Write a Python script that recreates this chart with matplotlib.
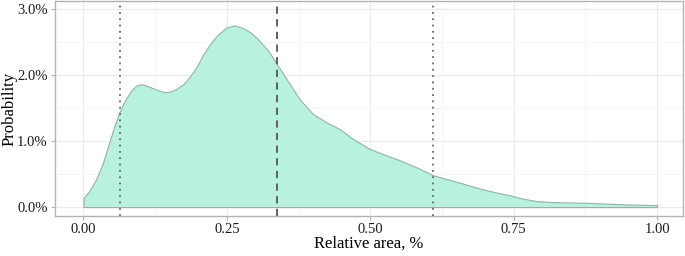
import matplotlib.pyplot as plt
from matplotlib.ticker import FuncFormatter, MultipleLocator

plt.rcParams['font.family'] = ['Liberation Serif', 'DejaVu Serif']

# density curve (x: relative area, y: probability in %)
area = [0.0, 0.010, 0.022, 0.034, 0.045, 0.054, 0.063, 0.072, 0.083, 0.092,
        0.101, 0.110, 0.118, 0.130, 0.141, 0.152, 0.162, 0.174, 0.185, 0.197,
        0.208, 0.220, 0.232, 0.249, 0.264, 0.278, 0.290, 0.301, 0.322, 0.336,
        0.354, 0.377, 0.400, 0.424, 0.447, 0.470, 0.499, 0.523, 0.551, 0.581,
        0.610, 0.639, 0.668, 0.691, 0.720, 0.743, 0.765, 0.790, 0.820, 0.877,
        0.947, 1.0]
prob = [0.14, 0.24, 0.42, 0.67, 0.98, 1.23, 1.44, 1.61, 1.76, 1.84,
        1.86, 1.84, 1.81, 1.77, 1.74, 1.75, 1.79, 1.86, 1.97, 2.12,
        2.30, 2.46, 2.59, 2.72, 2.75, 2.71, 2.65, 2.57, 2.37, 2.18,
        1.94, 1.63, 1.41, 1.28, 1.18, 1.03, 0.88, 0.80, 0.71, 0.60,
        0.48, 0.41, 0.34, 0.28, 0.22, 0.18, 0.13, 0.09, 0.075, 0.065,
        0.04, 0.03]
dotted_lines = [0.063, 0.609]
dashed_line = 0.337

fig = plt.figure(figsize=(6.85, 2.56), dpi=100)
ax = fig.add_axes([0.080, 0.156, 0.917, 0.840])

ax.fill_between(area, prob, 0, facecolor='#b8f2df', edgecolor='#9aaea6',
                linewidth=0.8, zorder=2)
for xv in dotted_lines:
    ax.axvline(xv, color='#666666', linestyle=(0, (1, 2.5)), linewidth=1.3, zorder=3)
ax.axvline(dashed_line, color='#555555', linestyle=(0, (4, 3)), linewidth=1.3, zorder=3)

ax.set_xlim(-0.05, 1.045)
ax.set_ylim(-0.136, 3.12)
ax.xaxis.set_major_locator(MultipleLocator(0.25))
ax.xaxis.set_minor_locator(MultipleLocator(0.125))
ax.yaxis.set_major_locator(MultipleLocator(1.0))
ax.yaxis.set_minor_locator(MultipleLocator(0.5))
ax.xaxis.set_major_formatter(FuncFormatter(lambda v, p: f"{v:.2f}"))
ax.yaxis.set_major_formatter(FuncFormatter(lambda v, p: f"{v:.1f}%"))

ax.grid(which='major', color='#ebebeb', linewidth=0.8, zorder=0)
ax.grid(which='minor', color='#f4f4f4', linewidth=0.6, zorder=0)
ax.set_axisbelow(True)
ax.tick_params(which='major', length=2.7, color='#b3b3b3', labelsize=10.5,
               labelcolor='#1a1a1a', pad=2.5)
ax.tick_params(which='minor', length=0)
for s in ax.spines.values():
    s.set_color('#b3b3b3')
    s.set_linewidth(1.0)

ax.set_xlabel("Relative area, %", fontsize=12)
ax.set_ylabel("Probability", fontsize=12)
ax.xaxis.set_label_coords(0.5, -0.093)
ax.yaxis.set_label_coords(-0.06, 0.5)

fig.savefig("out.png", dpi=100)
